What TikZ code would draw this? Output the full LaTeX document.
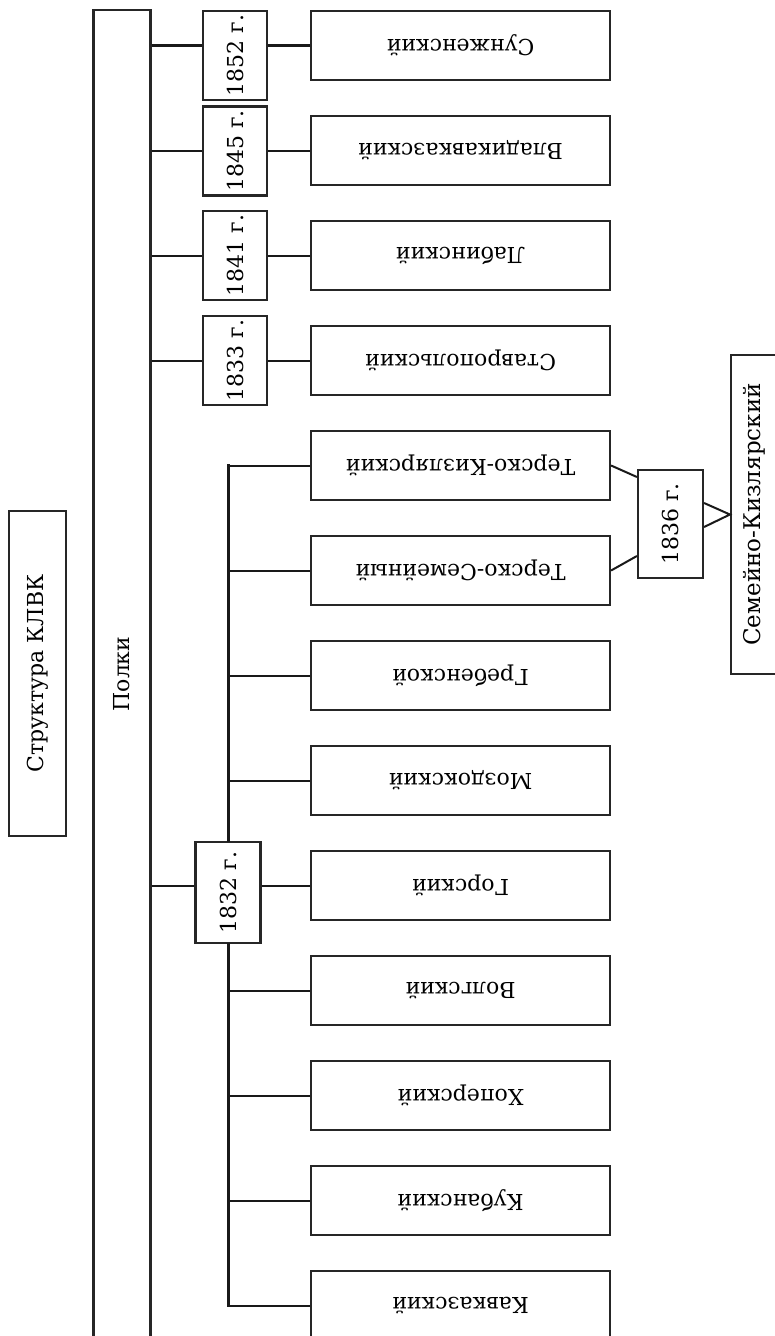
\documentclass[tikz,border=0pt]{standalone}
\usepackage{fontspec}
\setmainfont{DejaVu Serif}
\newcommand{\upt}[1]{\rotatebox{90}{#1}}
\newcommand{\dnt}[1]{\rotatebox{180}{#1}}
\tikzset{
 bx/.style={draw=black!85, line width=2.2pt, fill=white, inner sep=0pt, font=\fontsize{22}{26}\selectfont},
 regbox/.style={bx, minimum width=299pt, minimum height=69pt},
 yrbox/.style={bx, minimum width=64pt, minimum height=89pt},
 conn/.style={draw=black!90, line width=2pt},
 thk/.style={draw=black!90, line width=3pt},
}
\begin{document}
\begin{tikzpicture}[x=1pt,y=-1pt]
\useasboundingbox (0,0) rectangle (775,1336);
\fill[white] (0,0) rectangle (775,1336);
% left column
\node[bx, minimum width=57pt, minimum height=325pt] (klvk) at (37.5,673.5) {\upt{Структура КЛВК}};
\node[bx, minimum width=57pt, minimum height=1328pt] (polki) at (122,674) {\upt{Полки}};
% regiments
\node[regbox] (r1)  at (460.5,45.5)   {\dnt{Сунженский}};
\node[regbox] (r2)  at (460.5,150.5)  {\dnt{Владикавказский}};
\node[regbox] (r3)  at (460.5,255.5)  {\dnt{Лабинский}};
\node[regbox] (r4)  at (460.5,360.5)  {\dnt{Ставропольский}};
\node[regbox] (r5)  at (460.5,465.5)  {\dnt{Терско-Кизлярский}};
\node[regbox] (r6)  at (460.5,570.5)  {\dnt{Терско-Семейный}};
\node[regbox] (r7)  at (460.5,675.5)  {\dnt{Гребенской}};
\node[regbox] (r8)  at (460.5,780.5)  {\dnt{Моздокский}};
\node[regbox] (r9)  at (460.5,885.5)  {\dnt{Горский}};
\node[regbox] (r10) at (460.5,990.5)  {\dnt{Волгский}};
\node[regbox] (r11) at (460.5,1095.5) {\dnt{Хоперский}};
\node[regbox] (r12) at (460.5,1200.5) {\dnt{Кубанский}};
\node[regbox] (r13) at (460.5,1305.5) {\dnt{Кавказский}};
% years
\node[yrbox] (y52) at (235,55.5)  {\upt{1852 г.}};
\node[yrbox] (y45) at (235,151)   {\upt{1845 г.}};
\node[yrbox] (y41) at (235,255.5) {\upt{1841 г.}};
\node[yrbox] (y33) at (235,360.5) {\upt{1833 г.}};
\node[bx, minimum width=65pt, minimum height=101pt] (y32) at (228,892.5) {\upt{1832 г.}};
\node[bx, minimum width=65pt, minimum height=108pt] (y36) at (670.5,524) {\upt{1836 г.}};
\node[bx, minimum width=46pt, minimum height=319pt, font=\fontsize{23}{27}\selectfont] (sk) at (754,514.5) {\upt{Семейно-Кизлярский}};
% connectors to year boxes
\draw[thk] (polki.east |- r1) -- (y52.west |- r1);
\draw[thk] (y52.east |- r1) -- (r1.west);
\foreach \y/\r in {y45/r2, y41/r3, y33/r4, y32/r9}{
  \draw[conn] (polki.east |- \r) -- (\y.west |- \r);
  \draw[conn] (\y.east |- \r) -- (\r.west);
}
% 1832 trunk
\draw[thk, line cap=rect] (y32.center |- r5) -- (y32.north);
\draw[thk, line cap=rect] (y32.south) -- (y32.center |- r13);
\foreach \r in {r5,r6,r7,r8,r10,r11,r12,r13}{
  \draw[conn] (y32.center |- \r) -- (\r.west);
}
% 1836 merge
\draw[conn] (r5.east) -- ([yshift=47pt]y36.west);
\draw[conn] (r6.east) -- ([yshift=-32pt]y36.west);
\draw[conn, line join=miter] ([yshift=21pt]y36.east) -- (sk.west) -- ([yshift=-3pt]y36.east);
\end{tikzpicture}
\end{document}
